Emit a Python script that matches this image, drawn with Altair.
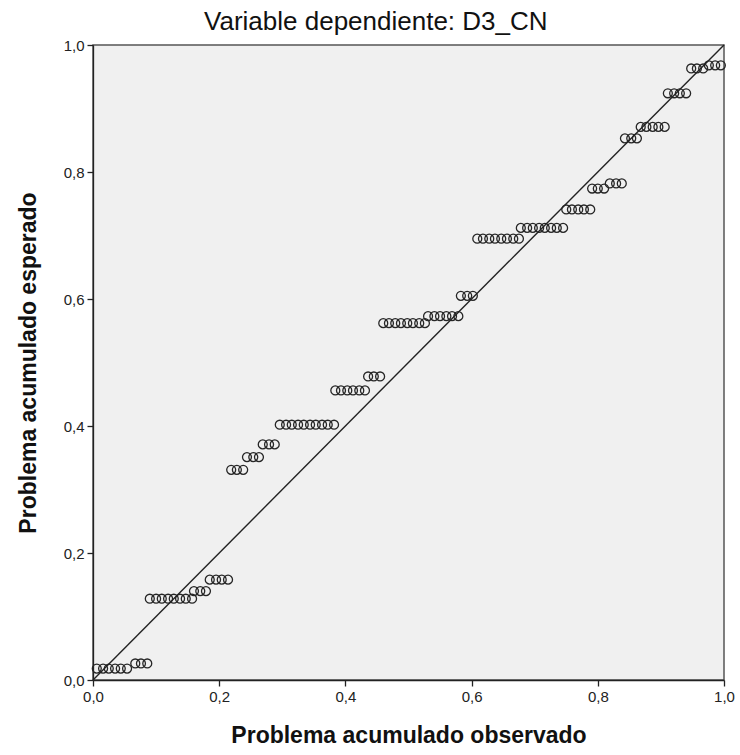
import altair as alt
import pandas as pd

observed = [
    0.006, 0.016, 0.025, 0.035, 0.044, 0.054,
    0.067, 0.076, 0.086,
    0.090, 0.100, 0.109, 0.119, 0.128, 0.138, 0.147, 0.157,
    0.160, 0.170, 0.179,
    0.185, 0.195, 0.204, 0.214,
    0.219, 0.228, 0.238,
    0.244, 0.254, 0.263,
    0.269, 0.279, 0.288,
    0.296, 0.306, 0.315, 0.325, 0.334, 0.344, 0.353, 0.363, 0.372, 0.382,
    0.384, 0.393, 0.403, 0.412, 0.422, 0.431,
    0.436, 0.445, 0.455,
    0.460, 0.469, 0.479, 0.488, 0.498, 0.507, 0.517, 0.526,
    0.531, 0.541, 0.550, 0.560, 0.569, 0.579,
    0.583, 0.593, 0.602,
    0.609, 0.618, 0.628, 0.637, 0.647, 0.656, 0.666, 0.675,
    0.678, 0.688, 0.697, 0.707, 0.716, 0.726, 0.735, 0.745,
    0.750, 0.759, 0.769, 0.778, 0.788,
    0.791, 0.800, 0.810,
    0.819, 0.829, 0.838,
    0.843, 0.853, 0.862,
    0.868, 0.877, 0.887, 0.896, 0.906,
    0.911, 0.921, 0.930, 0.940,
    0.948, 0.957, 0.967,
    0.976, 0.986, 0.995,
]
expected = (
    [0.018] * 6 + [0.026] * 3 + [0.128] * 8 + [0.140] * 3 + [0.158] * 4 +
    [0.331] * 3 + [0.351] * 3 + [0.371] * 3 + [0.402] * 10 + [0.456] * 6 +
    [0.478] * 3 + [0.562] * 8 + [0.573] * 6 + [0.605] * 3 + [0.695] * 8 +
    [0.712] * 8 + [0.741] * 5 + [0.774] * 3 + [0.782] * 3 + [0.853] * 3 +
    [0.871] * 5 + [0.924] * 4 + [0.963] * 3 + [0.968] * 3
)
ref_line = [0.0, 1.0]
ticks = [0.0, 0.2, 0.4, 0.6, 0.8, 1.0]

pts = pd.DataFrame({"obs": observed, "exp": expected})
diag = pd.DataFrame({"obs": ref_line, "exp": ref_line})

FONT = "Liberation Sans"
lab = "replace(format(datum.value, '.1f'), '.', ',')"

xs = alt.Scale(domain=[0, 1], nice=False, zero=False)
ys = alt.Scale(domain=[0, 1], nice=False, zero=False)

common = dict(values=ticks, labelExpr=lab, grid=False, tickSize=6, labelPadding=3,
              labelFlush=False, labelFontSize=15, titleFontSize=23, titleFontWeight="bold",
              domainColor="#222", tickColor="#222", labelColor="#222", titleColor="#111",
              labelFont=FONT, titleFont=FONT, domainWidth=1.3, tickWidth=1.3)
xaxis = alt.Axis(title="Problema acumulado observado", titlePadding=20, **common)
yaxis = alt.Axis(title="Problema acumulado esperado", titlePadding=23, **common)

line = alt.Chart(diag).mark_line(color="#222", strokeWidth=1.4).encode(
    x=alt.X("obs:Q", scale=xs, axis=xaxis),
    y=alt.Y("exp:Q", scale=ys, axis=yaxis),
)
points = alt.Chart(pts).mark_point(shape="circle", filled=False, color="#262626",
                                   size=80, strokeWidth=1.3, opacity=1).encode(
    x=alt.X("obs:Q", scale=xs),
    y=alt.Y("exp:Q", scale=ys),
)

chart = alt.layer(points, line).properties(
    width=631, height=635,
    background="white",
    title=alt.TitleParams("Variable dependiente: D3_CN", font=FONT, fontSize=26,
                          fontWeight="normal", color="#111", offset=3,
                          anchor="middle", frame="bounds"),
    autosize=alt.AutoSizeParams(type="none"),
    padding={"left": 93, "top": 45, "right": 16, "bottom": 75},
).configure_view(fill="#F0F0F0", stroke="#555", strokeWidth=1.5)

chart.save("out.html", embed_options={"renderer": "svg", "actions": False})
